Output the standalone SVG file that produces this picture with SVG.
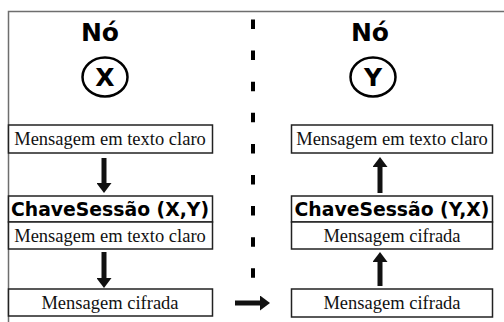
<svg xmlns="http://www.w3.org/2000/svg" width="504" height="322" viewBox="0 0 504 322">
<defs>
<style>
.frame{stroke:#6e6e6e;stroke-width:1.5;fill:none}
.box{fill:#fff;stroke:#222;stroke-width:1.5}
.serif{font-family:"Liberation Serif","Times New Roman",serif;font-size:18.5px;fill:#111;text-anchor:middle}
.key{font-family:"DejaVu Sans",Verdana,sans-serif;font-weight:bold;font-size:18.8px;fill:#000;text-anchor:middle}
.title{font-family:"DejaVu Sans",Verdana,sans-serif;font-weight:bold;font-size:25px;fill:#000;text-anchor:middle}
.letter{font-family:"DejaVu Sans",Verdana,sans-serif;font-weight:bold;font-size:25px;fill:#000;text-anchor:middle}
.ring{fill:none;stroke:#000;stroke-width:2.5}
.arr{stroke:#111;stroke-width:5;fill:none}
.div{stroke:#000;stroke-width:4;stroke-dasharray:9.5 21.6}
</style>
<marker id="ah" markerUnits="userSpaceOnUse" markerWidth="10" markerHeight="15" refX="0" refY="7.5" orient="auto">
<path d="M0,0 L10,7.5 L0,15 Z" fill="#111"/>
</marker>
</defs>
<rect width="504" height="322" fill="#fff"/>
<path class="frame" d="M8.5,322 V11.5 H504"/>
<line class="div" x1="253" y1="19.5" x2="253" y2="280"/>

<g id="nodeX">
<text class="title" x="100" y="41">Nó</text>
<ellipse class="ring" cx="105" cy="77" rx="22.5" ry="19.5"/>
<text class="letter" x="105" y="86">X</text>
</g>
<g id="nodeY">
<text class="title" x="370" y="41">Nó</text>
<ellipse class="ring" cx="373" cy="77" rx="22.5" ry="19.5"/>
<text class="letter" x="373" y="86">Y</text>
</g>

<g id="x-claro">
<rect class="box" x="8.5" y="125" width="204" height="28"/>
<text class="serif" x="110" y="145">Mensagem em texto claro</text>
</g>
<g id="x-chave">
<rect class="box" x="8.5" y="196" width="204" height="26"/>
<text class="key" x="110" y="215.5">ChaveSessão (X,Y)</text>
<rect class="box" x="8.5" y="222" width="204" height="27"/>
<text class="serif" x="110" y="241.5">Mensagem em texto claro</text>
</g>
<g id="x-cifrada">
<rect class="box" x="8.5" y="289" width="204" height="27"/>
<text class="serif" x="110" y="308.5">Mensagem cifrada</text>
</g>

<g id="y-claro">
<rect class="box" x="291.5" y="125" width="201" height="28"/>
<text class="serif" x="392" y="145">Mensagem em texto claro</text>
</g>
<g id="y-chave">
<rect class="box" x="291.5" y="196" width="201" height="26"/>
<text class="key" x="392" y="215.5">ChaveSessão (Y,X)</text>
<rect class="box" x="291.5" y="222" width="201" height="27"/>
<text class="serif" x="392" y="241.5">Mensagem cifrada</text>
</g>
<g id="y-cifrada">
<rect class="box" x="291.5" y="289" width="201" height="28"/>
<text class="serif" x="392" y="309">Mensagem cifrada</text>
</g>

<g id="connectors">
<line class="arr" x1="104" y1="158" x2="104" y2="183" marker-end="url(#ah)"/>
<line class="arr" x1="104" y1="252" x2="104" y2="278" marker-end="url(#ah)"/>
<line class="arr" x1="235" y1="303" x2="260" y2="303" marker-end="url(#ah)"/>
<line class="arr" x1="380" y1="286" x2="380" y2="262" marker-end="url(#ah)"/>
<line class="arr" x1="380" y1="193" x2="380" y2="167" marker-end="url(#ah)"/>
</g>
</svg>
